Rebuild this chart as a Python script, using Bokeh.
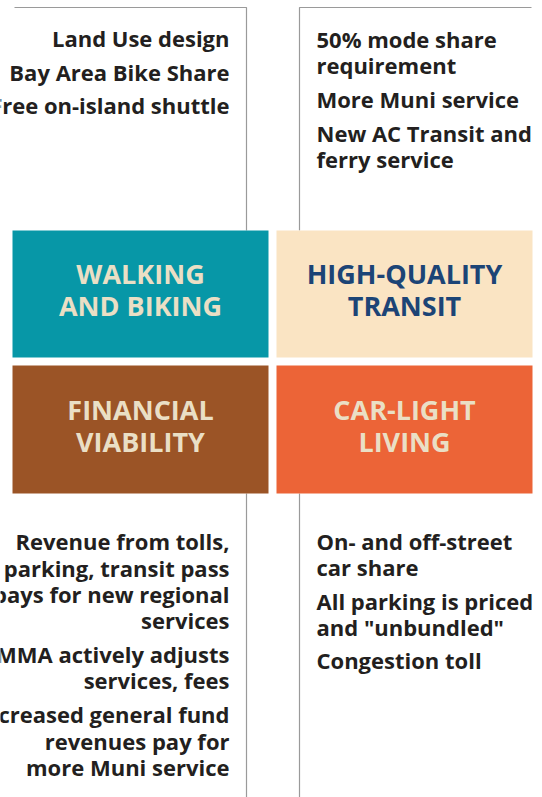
from bokeh.plotting import figure
from bokeh.models import Range1d
from bokeh.core.properties import value
from bokeh.embed import file_html
from bokeh.resources import INLINE

# ---- content ----
box_titles = [["WALKING", "AND BIKING"], ["HIGH-QUALITY", "TRANSIT"],
              ["FINANCIAL", "VIABILITY"], ["CAR-LIGHT", "LIVING"]]
box_colors = ["#0797A7", "#FAE4C3", "#9B5426", "#EC6437"]
title_colors = ["#EADFC5", "#1C4476", "#EADFC5", "#EADFC5"]

top_left_items = [["Land Use design"], ["Bay Area Bike Share"], ["Free on-island shuttle"]]
top_right_items = [["50% mode share", "requirement"], ["More Muni service"],
                   ["New AC Transit and", "ferry service"]]
bottom_left_items = [["Revenue from tolls,", "parking, transit pass", "pays for new regional", "services"],
                     ["TIMMA actively adjusts", "services, fees"],
                     ["Increased general fund", "revenues pay for", "more Muni service"]]
bottom_right_items = [["On- and off-street", "car share"], ["All parking is priced", "and \"unbundled\""],
                      ["Congestion toll"]]

FONT = "Open Sans"
TITLE_FS = 27
BODY_FS = 22
W, H = 542, 797
p = figure(width=W, height=H, x_range=Range1d(0, W), y_range=Range1d(H, 0),
           output_backend="svg", toolbar_location=None, min_border=0)
p.axis.visible = False
p.grid.visible = False
p.outline_line_color = None
p.background_fill_color = "white"

# connector lines
line_c = "#9A9A9A"
p.line([14, 246, 246], [7, 7, 230], line_color=line_c, line_width=1.2)
p.line([531, 299, 299], [7, 7, 230], line_color=line_c, line_width=1.2)
p.line([246, 246], [493, 797], line_color=line_c, line_width=1.2)
p.line([299, 299], [493, 797], line_color=line_c, line_width=1.2)

# boxes
lefts = [12, 276, 12, 276]
rights = [268, 532, 268, 532]
tops = [230, 230, 365, 365]
bottoms = [357, 357, 493, 493]
p.quad(left=lefts, right=rights, top=tops, bottom=bottoms, fill_color=box_colors, line_color=None)

for i, lines in enumerate(box_titles):
    cx = (lefts[i] + rights[i]) / 2
    base0 = (284 if i < 2 else 420) - 0.42 * TITLE_FS
    for j, t in enumerate(lines):
        p.text(x=[cx], y=[base0 + 32 * j], text=[t], text_align="center", text_baseline="alphabetic",
               text_font=value(FONT), text_font_style="bold", text_font_size=f"{TITLE_FS}px",
               text_color=title_colors[i])

BODY = "#231F20"

def items(groups, x, first, align, line_step=26.5, gap=34):
    y = first - 0.42 * BODY_FS
    for g in groups:
        for k, t in enumerate(g):
            p.text(x=[x], y=[y], text=[t], text_align=align, text_baseline="alphabetic",
                   text_font=value(FONT), text_font_style="bold", text_font_size=f"{BODY_FS}px",
                   text_color=BODY)
            if k < len(g) - 1:
                y += line_step
        y += gap

items(top_left_items, 229, 47, "right", gap=33.5)
items(top_right_items, 316, 48, "left", line_step=26, gap=34)
items(bottom_left_items, 229, 550, "right", line_step=26.3, gap=34)
items(bottom_right_items, 316, 550, "left", line_step=26, gap=33.5)

open("out.html", "w").write(file_html(p, INLINE))
